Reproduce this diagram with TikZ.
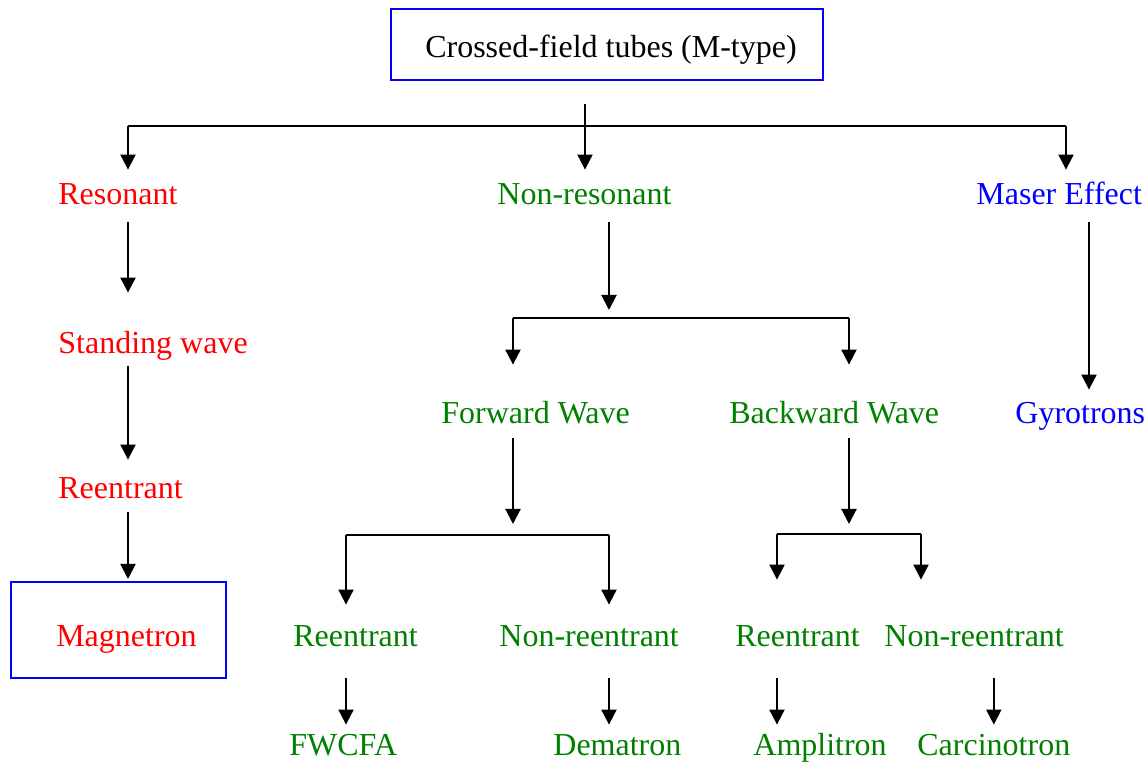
\documentclass[tikz,border=0pt]{standalone}
\usepackage{fontspec}
\setmainfont{Liberation Serif}
\usetikzlibrary{arrows.meta}

\definecolor{tred}{RGB}{255,0,0}
\definecolor{tgreen}{RGB}{0,128,0}
\definecolor{tblue}{RGB}{0,0,255}

\tikzset{
  lbl/.style={anchor=base west, inner sep=0pt, text height=11pt, text depth=3pt,
    font=\fontsize{16}{19}\selectfont},
  redlbl/.style={lbl, text=tred},
  greenlbl/.style={lbl, text=tgreen},
  bluelbl/.style={lbl, text=tblue},
  tubebox/.style={draw=tblue, line width=1pt, inner sep=0pt, text depth=0pt,
    font=\fontsize{16}{19}\selectfont},
  line/.style={line width=1pt},
  arr/.style={line, -{Triangle[width=7.5pt,length=7.5pt]}},
}

\begin{document}
\begin{tikzpicture}[x=0.5pt,y=-0.5pt]
  \useasboundingbox (0,0) rectangle (1148,764);

  %Tubo principal
  \node[tubebox, minimum width=216pt, minimum height=35.5pt, text height=13pt] (top) at (607,44.5) {\hspace*{4pt}Crossed-field tubes (M-type)};

  %Primeiro nivel
  \node[redlbl]   (res)    at (58,205)  {Resonant};
  \node[greenlbl] (nonres) at (497,205) {Non-resonant};
  \node[bluelbl]  (maser)  at (976,205) {Maser Effect};

  \coordinate (b1)  at (585,126);
  \coordinate (b1l) at (128,126);
  \coordinate (b1r) at (1066,126);
  \draw[line, shorten <=11.5pt] (top.south -| b1) -- (b1);
  \draw[line] (b1l) -- (b1r);
  \draw[arr, shorten >=6.5pt] (b1l) -- (res.north -| b1l);
  \draw[arr, shorten >=6.5pt] (b1) -- (nonres.north -| b1);
  \draw[arr, shorten >=6.5pt] (b1r) -- (maser.north -| b1r);

  %Resonant
  \node[redlbl] (stand) at (58,354) {Standing wave};
  \node[redlbl] (reen)  at (58,499) {Reentrant};
  \node[tubebox, minimum width=107.5pt, minimum height=48pt, text height=17pt, text=tred] (mag) at (118.5,630) {\hspace*{8pt}Magnetron};
  \draw[arr, shorten <=5.5pt, shorten >=19.5pt] (res.south -| b1l) -- (stand.north -| b1l);
  \draw[arr, shorten <=3pt, shorten >=8.5pt] (stand.south -| b1l) -- (reen.north -| b1l);
  \draw[arr, shorten <=3.5pt, shorten >=1pt] (reen.south -| b1l) -- (mag.north -| b1l);

  %Maser
  \coordinate (cm) at (1089,300);
  \node[bluelbl] (gyro) at (1015,424) {Gyrotrons};
  \draw[arr, shorten <=5.5pt, shorten >=6pt] (maser.south -| cm) -- (gyro.north -| cm);

  %Non-resonant
  \node[greenlbl] (fw) at (441,424) {Forward Wave};
  \node[greenlbl] (bw) at (729,424) {Backward Wave};
  \coordinate (b2)  at (609,318);
  \coordinate (b2l) at (513,318);
  \coordinate (b2r) at (849,318);
  \draw[arr, shorten <=5.5pt, shorten >=4pt] (nonres.south -| b2) -- (b2);
  \draw[line] (b2l) -- (b2r);
  \draw[arr, shorten >=18.5pt] (b2l) -- (fw.north -| b2l);
  \draw[arr, shorten >=18.5pt] (b2r) -- (bw.north -| b2r);

    %Forward Wave
    \node[greenlbl] (fwre)  at (293,647) {Reentrant};
    \node[greenlbl] (fwnon) at (499,647) {Non-reentrant};
    \node[greenlbl] (fwcfa) at (289,756) {FWCFA};
    \node[greenlbl] (demat) at (553,756) {Dematron};
    \coordinate (b3)  at (513,535);
    \coordinate (b3l) at (346,535);
    \coordinate (b3r) at (609,535);
    \draw[arr, shorten <=4pt, shorten >=5.5pt] (fw.south -| b3) -- (b3);
    \draw[line] (b3l) -- (b3r);
    \draw[arr, shorten >=10pt] (b3l) -- (fwre.north -| b3l);
    \draw[arr, shorten >=10pt] (b3r) -- (fwnon.north -| b3r);
    \draw[arr, shorten <=12.5pt, shorten >=4.5pt] (fwre.south -| b3l) -- (fwcfa.north -| b3l);
    \draw[arr, shorten <=12.5pt, shorten >=4.5pt] (fwnon.south -| b3r) -- (demat.north -| b3r);

    %Backward Wave
    \node[greenlbl] (bwre)  at (735,647) {Reentrant};
    \node[greenlbl] (bwnon) at (884,647) {Non-reentrant};
    \node[greenlbl] (ampl)  at (753,756) {Amplitron};
    \node[greenlbl] (carc)  at (917,756) {Carcinotron};
    \coordinate (b4)  at (849,534);
    \coordinate (b4l) at (777,534);
    \coordinate (b4r) at (921,534);
    \draw[arr, shorten <=4pt, shorten >=5pt] (bw.south -| b4) -- (b4);
    \draw[line] (b4l) -- (b4r);
    \draw[arr, shorten >=22.5pt] (b4l) -- (bwre.north -| b4l);
    \draw[arr, shorten >=22.5pt] (b4r) -- (bwnon.north -| b4r);
    \draw[arr, shorten <=12.5pt, shorten >=4.5pt] (bwre.south -| b4l) -- (ampl.north -| b4l);
    \draw[arr, shorten <=12.5pt, shorten >=4.5pt] (bwnon.south -| carc.center) -- (carc.north);
\end{tikzpicture}
\end{document}
